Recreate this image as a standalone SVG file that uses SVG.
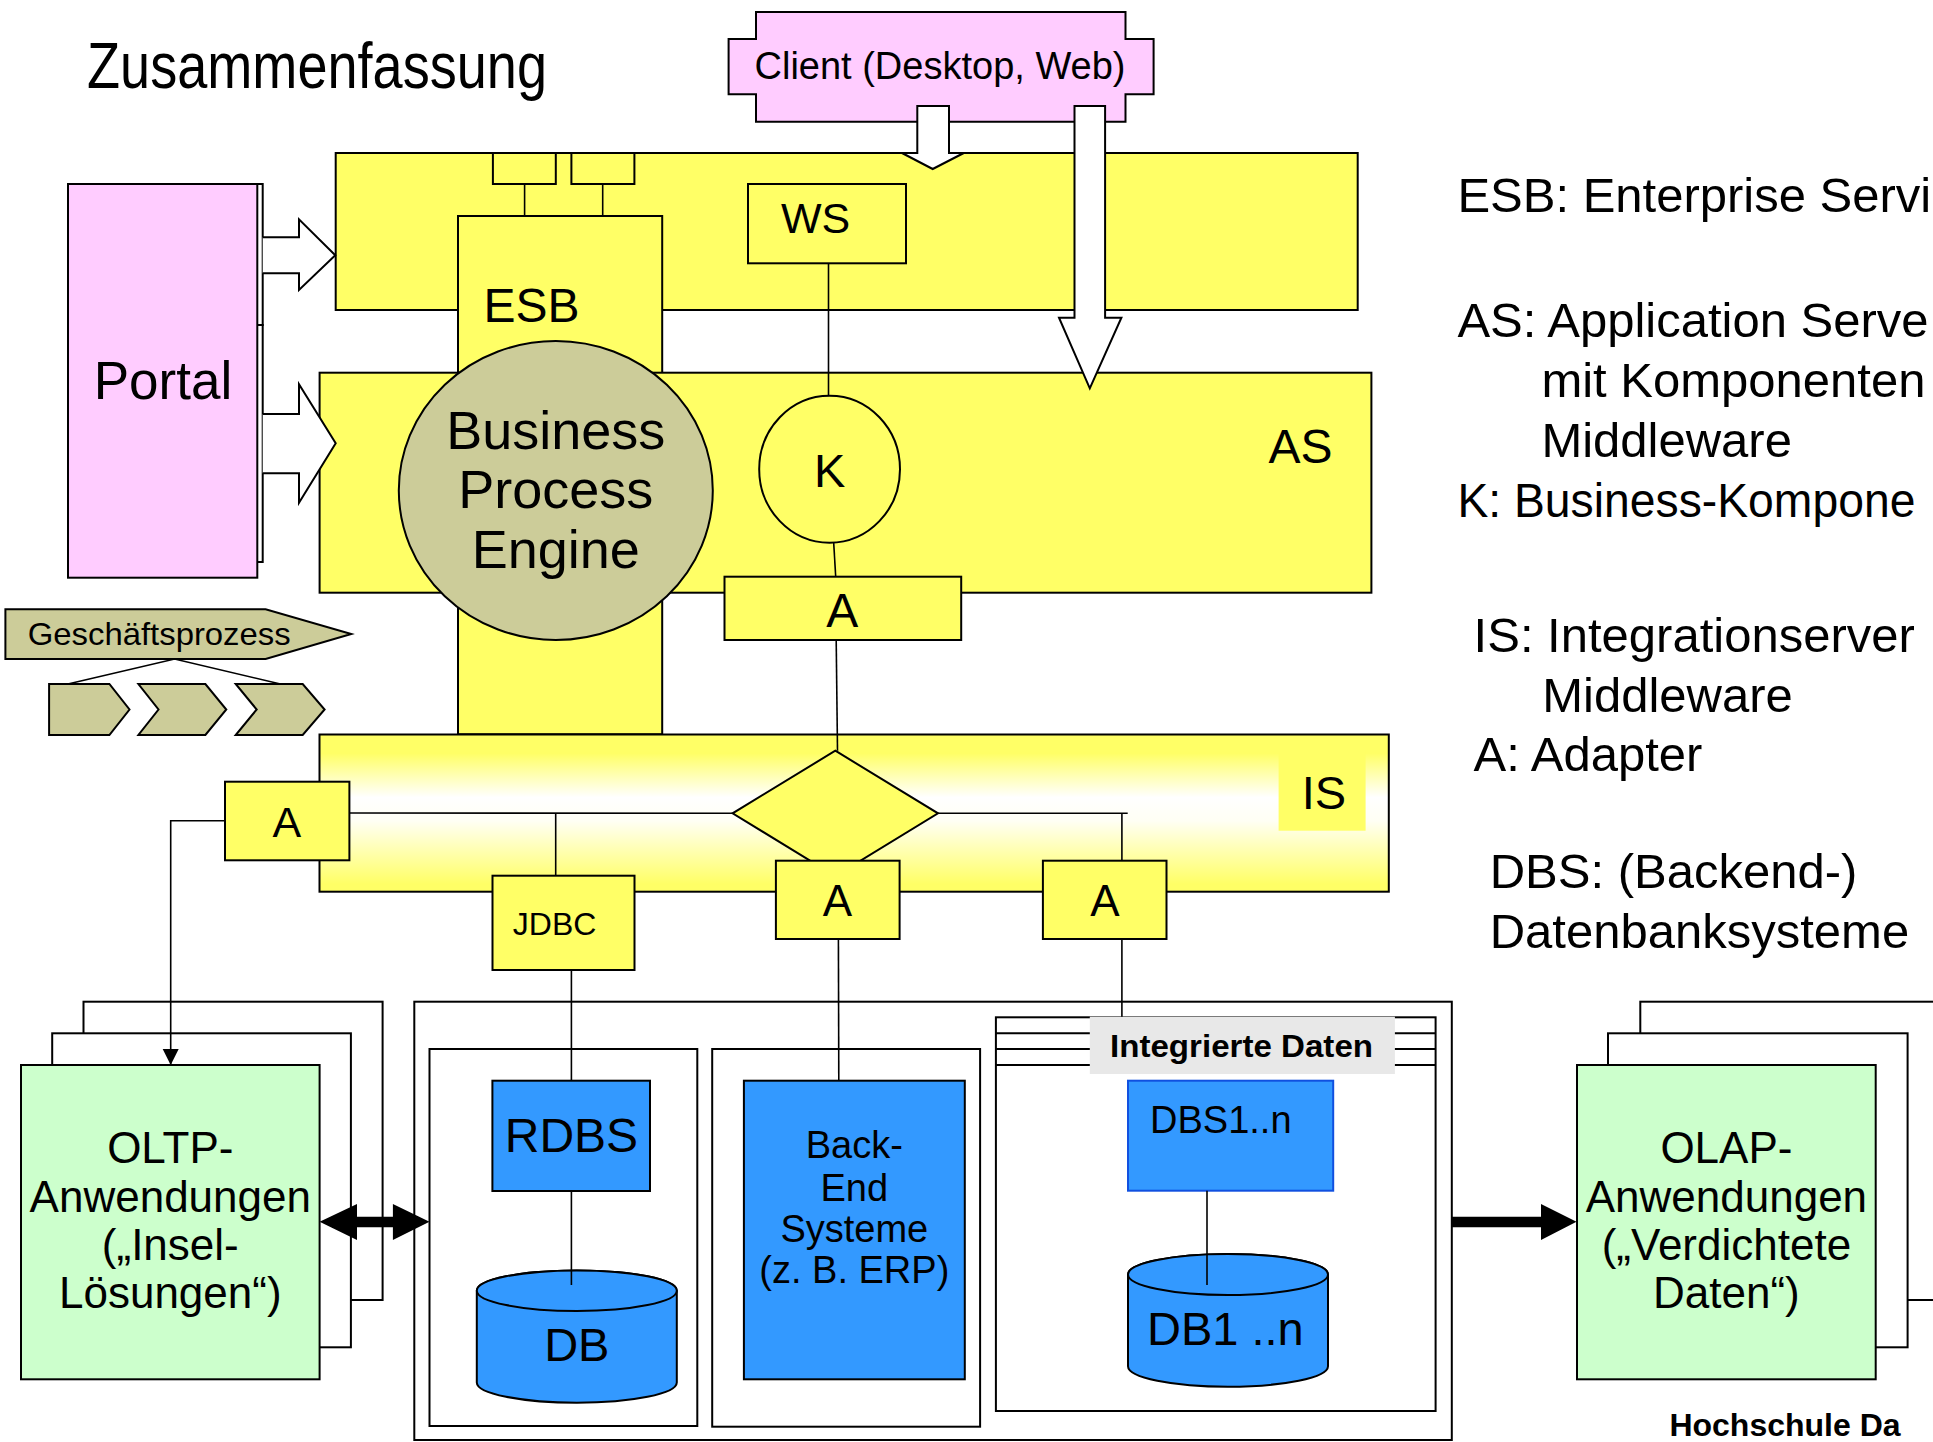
<svg xmlns="http://www.w3.org/2000/svg" width="1933" height="1442" viewBox="0 0 1933 1442">
<style>
text{font-family:"Liberation Sans",Arial,sans-serif;fill:#000}
.b{stroke:#000;stroke-width:2}
.y{fill:#FFFF66;stroke:#000;stroke-width:2}
.w{fill:#FFFFFF;stroke:#000;stroke-width:2}
.o{fill:#CCCC99;stroke:#000;stroke-width:2}
.p{fill:#FFCCFF;stroke:#000;stroke-width:2}
.g{fill:#CCFFCC;stroke:#000;stroke-width:2}
.bl{fill:#3399FF;stroke:#000;stroke-width:2}
.ln{fill:none;stroke:#000;stroke-width:1.6}
.lg{font-size:49px}
.mid{text-anchor:middle}
</style>
<defs>
<linearGradient id="isg" x1="0" y1="0" x2="0" y2="1">
<stop offset="0" stop-color="#FFFF66"/>
<stop offset="0.12" stop-color="#FFFF66"/>
<stop offset="0.4" stop-color="#FFFFFF"/>
<stop offset="0.55" stop-color="#FFFFF4"/>
<stop offset="0.95" stop-color="#FFFF66"/>
<stop offset="1" stop-color="#FFFF66"/>
</linearGradient>
<marker id="ah" markerWidth="16" markerHeight="18" refX="16" refY="8" orient="auto" markerUnits="userSpaceOnUse">
<path d="M0,0 L16,8 L0,16 z" fill="#000"/>
</marker>
</defs>

<g id="title">
<text x="87" y="88" font-size="64" textLength="460" lengthAdjust="spacingAndGlyphs">Zusammenfassung</text>
</g>

<g id="client">
<polygon class="p" points="756,12 1125.5,12 1125.5,39 1153.6,39 1153.6,94.3 1125.5,94.3 1125.5,121.7 756,121.7 756,94.3 728.6,94.3 728.6,39 756,39"/>
<text x="940" y="79" font-size="38" class="mid">Client (Desktop, Web)</text>
</g>

<g id="portal">
<rect class="w" x="74" y="184" width="188.7" height="141"/>
<rect class="w" x="74" y="325" width="188.7" height="237"/>
<rect class="p" x="68" y="184" width="189.3" height="393.7"/>
<text x="163" y="399" font-size="53" class="mid">Portal</text>
</g>

<g id="esb-bus">
<rect class="y" x="335.7" y="153" width="1022" height="157"/>
</g>

<g id="esb">
<rect class="y" x="458" y="216" width="204.2" height="518.3"/>
<text x="483.5" y="321.7" font-size="48">ESB</text>
</g>

<g id="esb-port-1"><rect class="y" x="492.9" y="153" width="62.9" height="31"/></g>
<g id="esb-port-2"><rect class="y" x="571.4" y="153" width="63" height="31"/></g>

<g id="ws">
<rect class="y" x="748" y="184" width="158" height="79.3"/>
<text x="781" y="233.3" font-size="43">WS</text>
</g>

<g id="as">
<rect class="y" x="319.6" y="372.7" width="1051.8" height="220"/>
<text x="1268.4" y="462.7" font-size="48">AS</text>
</g>

<g id="bpe">
<ellipse class="o" cx="555.8" cy="490.5" rx="157" ry="149.5"/>
<text x="555.8" y="449.3" font-size="54" class="mid">Business</text>
<text x="555.8" y="508.3" font-size="54" class="mid">Process</text>
<text x="555.8" y="568.3" font-size="54" class="mid">Engine</text>
</g>

<g id="k">
<ellipse class="y" cx="829.6" cy="469.2" rx="70.4" ry="73.5"/>
<text x="829.6" y="487.3" font-size="47" class="mid">K</text>
</g>

<g id="adapter-as">
<rect class="y" x="724.5" y="576.7" width="236.7" height="63.3"/>
<text x="842.3" y="626.7" font-size="48" class="mid">A</text>
</g>

<g id="is">
<rect x="319.5" y="734.5" width="1069.3" height="157.2" fill="url(#isg)" class="b"/>
<rect x="1278.6" y="750.7" width="87" height="80" fill="#FFFF66"/>
<text x="1301.8" y="809" font-size="47">IS</text>
</g>

<g id="diamond">
<polygon class="y" points="835.3,750.7 938,813.3 835.3,876 732.6,813.3"/>
</g>

<g id="adapter-left">
<rect class="y" x="225" y="781.7" width="124.4" height="78.6"/>
<text x="286.8" y="837.3" font-size="43" class="mid">A</text>
</g>

<g id="adapter-mid">
<rect class="y" x="775.9" y="860.7" width="123.7" height="78.3"/>
<text x="837.5" y="916" font-size="44" class="mid">A</text>
</g>

<g id="adapter-right">
<rect class="y" x="1042.9" y="860.7" width="123.6" height="78.3"/>
<text x="1105" y="916" font-size="44" class="mid">A</text>
</g>

<g id="jdbc">
<rect class="y" x="492.5" y="875.7" width="142" height="94.3"/>
<text x="512.8" y="935" font-size="32">JDBC</text>
</g>

<g id="geschaeftsprozess">
<polygon class="o" points="5.4,609.3 265.6,609.3 351.3,634 265.6,659 5.4,659"/>
<text x="27.7" y="645" font-size="32" textLength="263" lengthAdjust="spacingAndGlyphs">Geschäftsprozess</text>
<polyline class="ln" points="67.9,684 174.6,659 280.4,684"/>
<polygon class="o" points="49.1,684 109.4,684 129.5,709.5 109.4,735 49.1,735"/>
<polygon class="o" points="138.4,684 205.4,684 226.3,709.5 205.4,735 138.4,735 158.5,709.5"/>
<polygon class="o" points="235.7,684 302.7,684 324.6,709.5 302.7,735 235.7,735 256.7,709.5"/>
</g>

<g id="oltp">
<rect class="w" x="83.5" y="1001.7" width="299.1" height="298.3"/>
<rect class="w" x="52.2" y="1033.3" width="298.7" height="314"/>
<rect class="g" x="21" y="1065" width="298.6" height="314.3"/>
<text x="170.3" y="1163.3" font-size="44" class="mid">OLTP-</text>
<text x="170.3" y="1211.7" font-size="44" class="mid">Anwendungen</text>
<text x="170.3" y="1260" font-size="44" class="mid">(„Insel-</text>
<text x="170.3" y="1308.3" font-size="44" class="mid">Lösungen“)</text>
</g>

<g id="container">
<rect class="w" x="414.3" y="1001.7" width="1037.5" height="438.3"/>
</g>

<g id="rdbs-panel"><rect class="w" x="429.5" y="1049" width="267.8" height="377"/></g>

<g id="rdbs">
<rect class="bl" x="492.4" y="1080.7" width="157.6" height="110.3"/>
<text x="571.4" y="1152.3" font-size="48" class="mid">RDBS</text>
</g>

<g id="db">
<path class="bl" d="M476.8,1290.7 L476.8,1382.4 A100,20.3 0 0 0 676.8,1382.4 L676.8,1290.7 A100,20.3 0 0 0 476.8,1290.7 Z"/>
<ellipse class="bl" cx="576.8" cy="1290.7" rx="100" ry="20.3"/>
<text x="576.8" y="1360.7" font-size="47" class="mid">DB</text>
</g>

<g id="backend-panel"><rect class="w" x="712.2" y="1049" width="267.9" height="377.7"/></g>

<g id="backend">
<rect class="bl" x="743.9" y="1080.7" width="220.9" height="298.6"/>
<text x="854.3" y="1158.3" font-size="38" class="mid">Back-</text>
<text x="854.3" y="1200.7" font-size="38" class="mid">End</text>
<text x="854.3" y="1241.7" font-size="38" class="mid">Systeme</text>
<text x="854.3" y="1283.3" font-size="38" class="mid">(z. B. ERP)</text>
</g>

<g id="integrated">
<rect class="w" x="995.9" y="1017.3" width="439.7" height="393.7"/>
<line class="b" x1="995.9" y1="1033.3" x2="1435.6" y2="1033.3"/>
<line class="b" x1="995.9" y1="1049" x2="1435.6" y2="1049"/>
<line class="b" x1="995.9" y1="1065" x2="1435.6" y2="1065"/>
<rect x="1089.8" y="1016.7" width="305.1" height="57.3" fill="#E8E8E8"/>
<text x="1110" y="1056.7" font-size="32" font-weight="bold" textLength="263" lengthAdjust="spacingAndGlyphs">Integrierte Daten</text>
</g>

<g id="dbs1">
<rect x="1128" y="1080.7" width="205.2" height="110" fill="#3399FF" stroke="#1050E0" stroke-width="2"/>
<text x="1150" y="1133.3" font-size="38">DBS1..n</text>
</g>

<g id="db1">
<path class="bl" d="M1128,1274.5 L1128,1366.2 A100,20.5 0 0 0 1328,1366.2 L1328,1274.5 A100,20.5 0 0 0 1128,1274.5 Z"/>
<ellipse class="bl" cx="1228" cy="1274.5" rx="100" ry="20.5"/>
<text x="1147" y="1345" font-size="47">DB1 ..n</text>
</g>

<g id="olap">
<rect class="w" x="1640.3" y="1001.7" width="320" height="298.3"/>
<rect class="w" x="1608" y="1033.3" width="299.6" height="314"/>
<rect class="g" x="1577" y="1065" width="298.7" height="314.3"/>
<text x="1726.4" y="1163.3" font-size="44" class="mid">OLAP-</text>
<text x="1726.4" y="1211.7" font-size="44" class="mid">Anwendungen</text>
<text x="1726.4" y="1260" font-size="44" class="mid">(„Verdichtete</text>
<text x="1726.4" y="1308.3" font-size="44" class="mid">Daten“)</text>
</g>

<g id="legend">
<text class="lg" x="1457.4" y="211.7">ESB: Enterprise Servi</text>
<text class="lg" x="1457.4" y="336.7">AS: Application Serve</text>
<text class="lg" x="1541.4" y="396.7">mit Komponenten</text>
<text class="lg" x="1541.4" y="456.7">Middleware</text>
<text class="lg" x="1457.4" y="516.7" textLength="458" lengthAdjust="spacingAndGlyphs">K: Business-Kompone</text>
<text class="lg" x="1473.6" y="651.7">IS: Integrationserver</text>
<text class="lg" x="1542.2" y="711.7">Middleware</text>
<text class="lg" x="1473.6" y="770.7">A: Adapter</text>
<text class="lg" x="1489.7" y="888.3">DBS: (Backend-)</text>
<text class="lg" x="1489.7" y="948.3">Datenbanksysteme</text>
</g>

<g id="footer">
<text x="1669.4" y="1436" font-size="32" font-weight="bold">Hochschule Da</text>
</g>

<g id="connectors">
<line class="ln" x1="524.6" y1="184" x2="524.6" y2="216"/>
<line class="ln" x1="602.7" y1="184" x2="602.7" y2="216"/>
<line class="ln" x1="828.5" y1="263.3" x2="828.5" y2="395.7"/>
<line class="ln" x1="833.7" y1="542.7" x2="835.7" y2="576.7"/>
<line class="ln" x1="836.2" y1="640" x2="837.5" y2="750.7"/>
<line class="ln" x1="349.4" y1="813" x2="732.6" y2="813.3"/>
<line class="ln" x1="555.7" y1="813" x2="555.7" y2="875.7"/>
<polyline class="ln" points="938,813.3 1127.7,813.3"/>
<line class="ln" x1="1121.9" y1="813.3" x2="1121.9" y2="860.7"/>
<polyline class="ln" points="225,820.7 170.7,820.7 170.7,1065" marker-end="url(#ah)"/>
<line class="ln" x1="571.4" y1="970" x2="571.4" y2="1080.7"/>
<line class="ln" x1="571.4" y1="1191" x2="571.4" y2="1285"/>
<line class="ln" x1="838.4" y1="939" x2="838.8" y2="1080.7"/>
<line class="ln" x1="1121.9" y1="939" x2="1121.9" y2="1016.7"/>
<line class="ln" x1="1207" y1="1190.7" x2="1207" y2="1285"/>
<polygon fill="#000" points="319.6,1221.7 357,1204 357,1216.7 392.9,1216.7 392.9,1204 429.5,1221.7 392.9,1240 392.9,1227.3 357,1227.3 357,1240"/>
<polygon fill="#000" points="1451.8,1216.7 1541,1216.7 1541,1204 1576.5,1221.7 1541,1240 1541,1227.3 1451.8,1227.3"/>
<polygon fill="#FFF" points="262.7,237.3 299,237.3 299,219.3 335.3,255.3 299,290 299,273.3 262.7,273.3"/>
<polyline class="b" fill="none" points="262.7,237.3 299,237.3 299,219.3 335.3,255.3 299,290 299,273.3 262.7,273.3"/>
<polygon fill="#FFF" points="262.7,414 299,414 299,384.3 335.7,443.3 299,502.7 299,473.3 262.7,473.3"/>
<polyline class="b" fill="none" points="262.7,414 299,414 299,384.3 335.7,443.3 299,502.7 299,473.3 262.7,473.3"/>
<polygon class="w" points="917.3,106 949,106 949,153 963.8,153 932.7,169 902,153 917.3,153"/>
<polygon class="w" points="1074.5,106 1105.1,106 1105.1,317.7 1121.4,317.7 1089.8,388.3 1059,317.7 1074.5,317.7"/>
</g>
</svg>
